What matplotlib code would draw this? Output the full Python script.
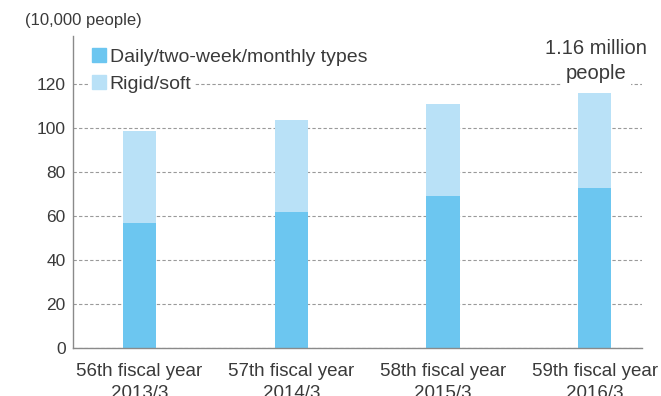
import matplotlib.pyplot as plt
from matplotlib.patches import Patch

plt.rcParams['font.family'] = ['Liberation Sans', 'DejaVu Sans']

years = ['56th fiscal year\n2013/3', '57th fiscal year\n2014/3',
         '58th fiscal year\n2015/3', '59th fiscal year\n2016/3']
daily = [57, 62, 69, 73]        # daily/two-week/monthly, 10,000 people
rigid = [42, 42, 42, 43]        # rigid/soft lenses
total_note = '1.16 million\npeople'

c_daily = '#6cc6f0'
c_rigid = '#b9e1f7'
txt = '#3a3a3a'
W, H = 661, 396

fig = plt.figure(figsize=(W / 100, H / 100), dpi=100)
ax = fig.add_axes([0.110, 0.121, 0.861, 0.788])

x = range(len(years))
ax.bar(x, daily, width=0.22, color=c_daily, zorder=2)
ax.bar(x, rigid, width=0.22, bottom=daily, color=c_rigid, zorder=2)

ax.set_xlim(-0.44, 3.31)
ax.set_ylim(0, 142)
ax.set_yticks(range(0, 121, 20))
ax.set_xticks(list(x))
ax.set_xticklabels(years, fontsize=13.5, color=txt, linespacing=1.38)
ax.tick_params(axis='x', length=0, pad=10.5)
ax.tick_params(axis='y', length=0, pad=5, labelsize=12.5, labelcolor=txt)

ax.yaxis.grid(True, linestyle=(0, (3, 2)), color='#9a9a9a', linewidth=0.8, zorder=1)
for s in ['top', 'right']:
    ax.spines[s].set_visible(False)
for s in ['left', 'bottom']:
    ax.spines[s].set_color('#8a8a8a')
    ax.spines[s].set_linewidth(1.0)

fig.text(25 / W, 1 - 20 / H, '(10,000 people)', fontsize=12, color=txt, va='center')

# one legend per entry so the white box only hides the gridline under its own text
entries = [(c_daily, 'Daily/two-week/monthly types', 57),
           (c_rigid, 'Rigid/soft', 84)]
for col, lab, yc in entries:
    leg = ax.legend(handles=[Patch(color=col, label=lab)], loc='center left',
                    bbox_to_anchor=(88 / W, 1 - yc / H), bbox_transform=fig.transFigure,
                    frameon=True, fontsize=14, handlelength=0.72, handleheight=0.72,
                    handletextpad=0.2, borderpad=0.2, borderaxespad=0,
                    labelcolor=txt, fancybox=False)
    leg.get_frame().set_facecolor('white')
    leg.get_frame().set_edgecolor('none')
    leg.get_frame().set_alpha(1)
    leg.set_zorder(5)
    ax.add_artist(leg)

tot = daily[3] + rigid[3]
line1, line2 = total_note.split('\n')
ax.annotate(line1, xy=(3, tot), xytext=(1, 28), textcoords='offset points',
            ha='center', va='baseline', fontsize=14.5, color=txt, zorder=5)
ax.annotate(line2, xy=(3, tot), xytext=(1, 10), textcoords='offset points',
            ha='center', va='baseline', fontsize=14.5, color=txt, zorder=5,
            bbox=dict(facecolor='white', edgecolor='none', boxstyle='square,pad=0.2'))

fig.savefig('out.png', dpi=100)
